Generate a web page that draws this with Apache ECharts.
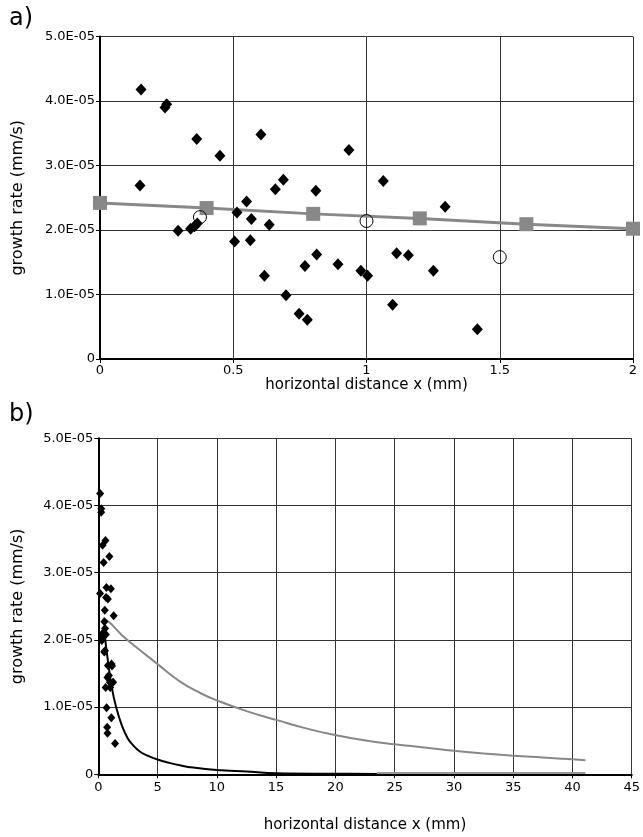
<!DOCTYPE html>
<html>
<head>
	<meta charset="utf-8">
	<script src="https://cdn.jsdelivr.net/npm/echarts@6/dist/echarts.min.js"></script>
	<style>body{margin:0;background:#fff;}</style>
</head>
<body>
	<div id="main" style="width:643px;height:837px;"></div>
</body>
<script type="text/javascript">
// measured points (growth rate in units of 1E-05 mm/s)
var ptX = [0.154,0.25,0.244,0.363,0.45,0.604,0.934,0.15,0.688,0.658,0.81,0.55,0.514,0.568,0.635,0.293,0.34,0.365,0.355,0.505,0.564,0.813,0.769,0.893,0.617,0.698,0.747,0.778,0.979,1.004,1.063,1.295,1.113,1.157,1.251,1.098,1.416];
var ptY = [4.18,3.95,3.90,3.41,3.15,3.48,3.24,2.69,2.78,2.63,2.61,2.44,2.27,2.17,2.08,1.99,2.02,2.10,2.06,1.82,1.84,1.62,1.44,1.47,1.29,0.99,0.70,0.61,1.37,1.29,2.76,2.36,1.64,1.61,1.37,0.84,0.46];
// open circles
var circX = [0.375,1.0,1.5];
var circY = [2.20,2.14,1.58];
// grey squares line
var sqX = [0,0.4,0.8,1.2,1.6,2.0];
var sqY = [2.42,2.34,2.25,2.18,2.09,2.02];
// panel b curves
var greyX = [0.42,1,2,3,5,6.9,8.6,10,12.5,15,17.6,20,22.3,25,27.5,30,32.5,35,37.5,40,41.1];
var greyY = [2.33,2.25,2.07,1.92,1.64,1.38,1.21,1.10,0.94,0.81,0.68,0.585,0.51,0.446,0.40,0.35,0.31,0.277,0.25,0.223,0.208];
var blackX = [0.45,0.6,0.84,1.13,1.5,2.0,2.5,3,3.5,4,5,6,7,8,10,12.5,15,20,23.5];
var blackY = [2.2,1.98,1.65,1.30,1.0,0.72,0.53,0.42,0.34,0.29,0.22,0.17,0.13,0.10,0.064,0.04,0.015,0.008,0.005];
var tailX = [23.5,41.1];
var tailY = [0.02,0.02];

function pairs(xs, ys){
	var out = [];
	for(var i=0;i<xs.length;i++) out.push([xs[i], ys[i]]);
	return out;
}
var F = 'DejaVu Sans';
function yfmt(v){ return v===0 ? '0' : v.toFixed(1)+'E-05'; }
var gridLine = {show:true, lineStyle:{color:'#333', width:1}};
var axLine = {show:true, onZero:false, lineStyle:{color:'#000', width:2}};
var tick = {show:true, inside:false, length:4, lineStyle:{color:'#000'}};

var option = {
	animation: false,
	title: [
		{text:'a)', left:4, top:2, textStyle:{fontFamily:F, fontSize:24, fontWeight:'normal', color:'#000'}},
		{text:'b)', left:4, top:398, textStyle:{fontFamily:F, fontSize:24, fontWeight:'normal', color:'#000'}}
	],
	grid: [
		{left:100, right:10, top:36.5, height:322.5},
		{left:98.3, right:10.7, top:438.3, height:336}
	],
	xAxis: [
		{gridIndex:0, type:'value', min:0, max:2, interval:0.5,
		 name:'horizontal distance x (mm)', nameLocation:'middle', nameGap:12,
		 nameTextStyle:{fontFamily:F, fontSize:15, color:'#000'},
		 axisLine:axLine, axisTick:tick, splitLine:gridLine,
		 axisLabel:{fontFamily:F, fontSize:13, color:'#000', margin:5}},
		{gridIndex:1, type:'value', min:0, max:45, interval:5,
		 name:'horizontal distance x (mm)', nameLocation:'middle', nameGap:43,
		 nameTextStyle:{fontFamily:F, fontSize:15, color:'#000'},
		 axisLine:axLine, axisTick:tick, splitLine:gridLine,
		 axisLabel:{fontFamily:F, fontSize:13, color:'#000', margin:7}}
	],
	yAxis: [
		{gridIndex:0, type:'value', min:0, max:5, interval:1,
		 name:'growth rate (mm/s)', nameLocation:'middle', nameGap:74,
		 nameTextStyle:{fontFamily:F, fontSize:16, color:'#000'},
		 axisLine:axLine, axisTick:tick, splitLine:gridLine,
		 axisLabel:{fontFamily:F, fontSize:13, color:'#000', margin:5, formatter:yfmt}},
		{gridIndex:1, type:'value', min:0, max:5, interval:1,
		 name:'growth rate (mm/s)', nameLocation:'middle', nameGap:72,
		 nameTextStyle:{fontFamily:F, fontSize:16, color:'#000'},
		 axisLine:axLine, axisTick:tick, splitLine:gridLine,
		 axisLabel:{fontFamily:F, fontSize:13, color:'#000', margin:5, formatter:yfmt}}
	],
	series: [
		{name:'model', type:'line', xAxisIndex:0, yAxisIndex:0, data:pairs(sqX, sqY),
		 symbol:'rect', symbolSize:14, showSymbol:true,
		 lineStyle:{color:'#888', width:3}, itemStyle:{color:'#888'}, z:2},
		{name:'measured', type:'scatter', xAxisIndex:0, yAxisIndex:0, data:pairs(ptX, ptY),
		 symbol:'diamond', symbolSize:[11,12], itemStyle:{color:'#000', opacity:1}, z:3},
		{name:'mean', type:'scatter', xAxisIndex:0, yAxisIndex:0, data:pairs(circX, circY),
		 symbol:'circle', symbolSize:13, itemStyle:{color:'rgba(0,0,0,0)', borderColor:'#000', borderWidth:1, opacity:1}, z:4},

		{name:'grey curve', type:'line', xAxisIndex:1, yAxisIndex:1, data:pairs(greyX, greyY),
		 showSymbol:false, smooth:true, lineStyle:{color:'#888', width:2}, z:2},
		{name:'grey tail', type:'line', xAxisIndex:1, yAxisIndex:1, data:pairs(tailX, tailY),
		 showSymbol:false, lineStyle:{color:'#999', width:2}, z:2},
		{name:'black curve', type:'line', xAxisIndex:1, yAxisIndex:1, data:pairs(blackX, blackY),
		 showSymbol:false, smooth:0.4, lineStyle:{color:'#000', width:2}, z:3},
		{name:'measured b', type:'scatter', xAxisIndex:1, yAxisIndex:1, data:pairs(ptX, ptY),
		 symbol:'diamond', symbolSize:[8,9], itemStyle:{color:'#000', opacity:1}, z:4}
	]
};
var myChart = echarts.init(document.getElementById('main'));
myChart.setOption(option);
</script>
</html>
